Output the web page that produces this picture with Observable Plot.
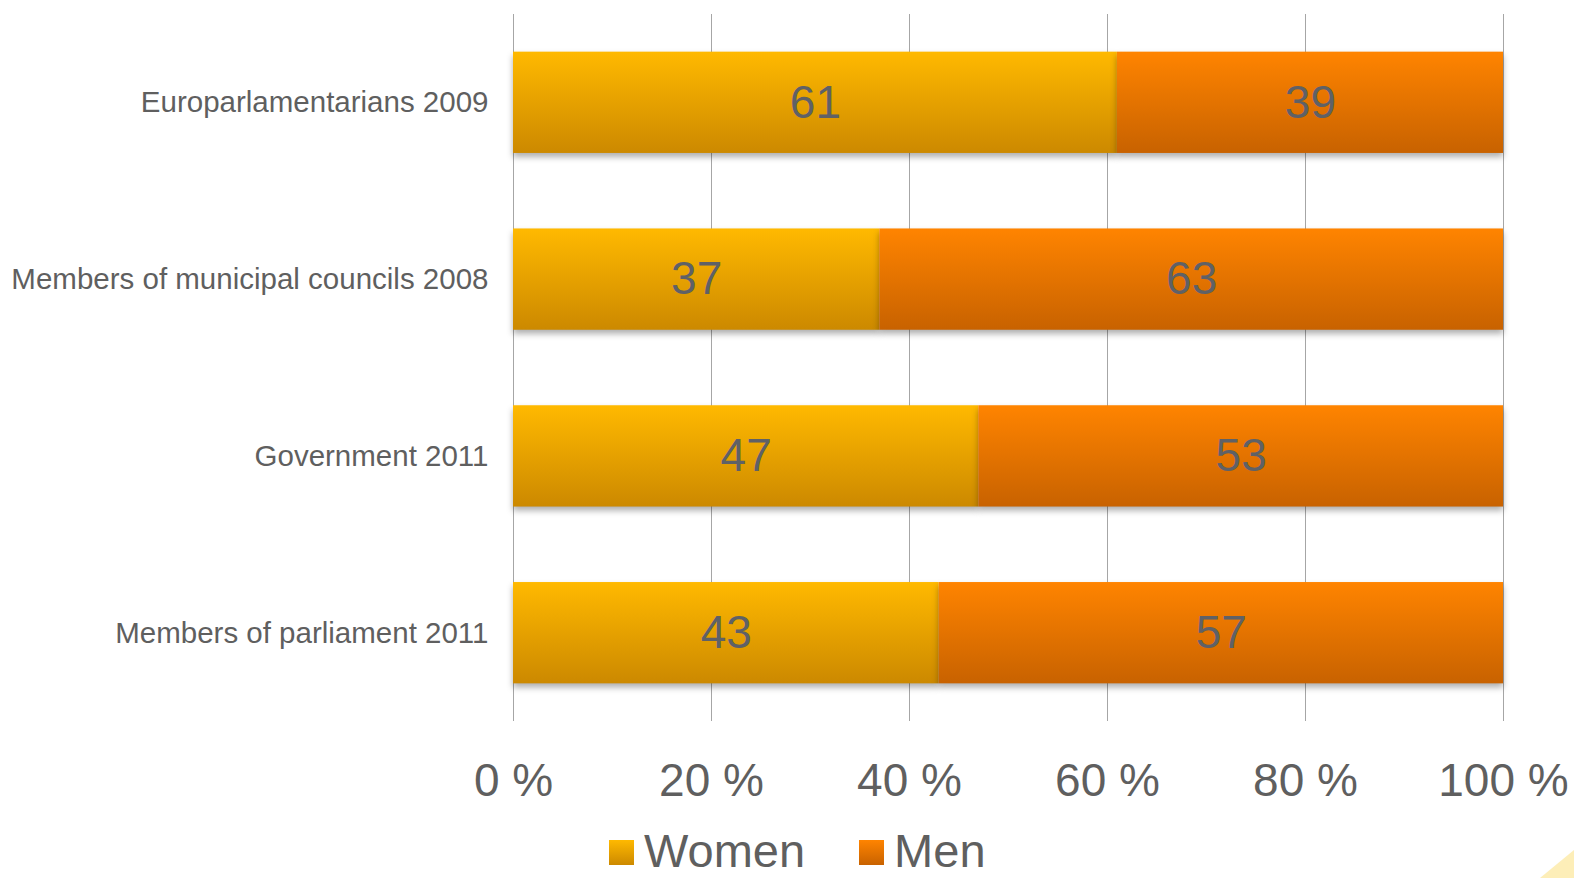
<!DOCTYPE html>
<html>
<head>
<meta charset="utf-8">
<script src="https://cdn.jsdelivr.net/npm/d3@7"></script>
<script src="https://cdn.jsdelivr.net/npm/@observablehq/plot@0.6"></script>
<style>
  html, body { margin: 0; padding: 0; background: #fff; }
  body { width: 1574px; height: 878px; position: relative; overflow: hidden; font-family: "Liberation Sans", Arial, sans-serif; }
  #chart { position: absolute; left: 0; top: 0; }
  .bars rect { filter: drop-shadow(0px 4px 3px rgba(0,0,0,0.32)); }
  #legend { position: absolute; left: 609px; bottom: 0px; display: flex; align-items: center; font-size: 47px; line-height: normal; color: #5f5f5f; }
  #legend .item { display: flex; align-items: center; margin-right: 54px; }
  #legend .sw { width: 25px; height: 25px; margin-right: 10px; margin-top: 4px; }
  #corner { position: absolute; right: 0; bottom: 0; width: 0; height: 0; border-left: 34px solid transparent; border-bottom: 28px solid #fdeeb8; }
</style>
</head>
<body>
<div id="chart"></div>
<div id="legend"></div>
<div id="corner"></div>
<script>
const categories = ["Europarlamentarians 2009", "Members of municipal councils 2008", "Government 2011", "Members of parliament 2011"];
const series = ["Women", "Men"];
const women = [61, 37, 47, 43];
const men = [39, 63, 53, 57];
const xTicks = [0, 20, 40, 60, 80, 100];
const tickLabels = ["0 %", "20 %", "40 %", "60 %", "80 %", "100 %"];

const rows = [];
categories.forEach((c, i) => {
  rows.push({category: c, sex: "Women", value: women[i]});
  rows.push({category: c, sex: "Men", value: men[i]});
});

const defs = () => {
  const svg = d3.create("svg:defs");
  const g1 = svg.append("linearGradient").attr("id", "gw").attr("x1", 0).attr("y1", 0).attr("x2", 0).attr("y2", 1);
  g1.append("stop").attr("offset", "0%").attr("stop-color", "#ffb900");
  g1.append("stop").attr("offset", "100%").attr("stop-color", "#cc8900");
  const g2 = svg.append("linearGradient").attr("id", "gm").attr("x1", 0).attr("y1", 0).attr("x2", 0).attr("y2", 1);
  g2.append("stop").attr("offset", "0%").attr("stop-color", "#ff8400");
  g2.append("stop").attr("offset", "100%").attr("stop-color", "#c86200");
  return svg.node();
};

const chart = Plot.plot({
  width: 1574,
  height: 810,
  marginTop: 14,
  marginBottom: 89,
  marginLeft: 513,
  marginRight: 71,
  style: {fontFamily: "'Liberation Sans', Arial, sans-serif", color: "#5f5f5f", background: "#fff"},
  x: {domain: [0, 100], ticks: xTicks, tickFormat: (d) => tickLabels[xTicks.indexOf(d)], tickSize: 0, tickPadding: 42, label: null},
  y: {domain: categories, paddingInner: 0.427, paddingOuter: 0.213, round: false, tickSize: 0, tickPadding: 25, label: null},
  color: {domain: series, range: ["url(#gw)", "url(#gm)"]},
  marks: [
    defs,
    Plot.gridX(xTicks, {stroke: "#a6a6a6", strokeOpacity: 1, strokeWidth: 1}),
    Plot.barX(rows, Plot.stackX({x: "value", y: "category", fill: "sex", order: series, className: "bars"})),
    Plot.text(rows, Plot.stackX({x: "value", y: "category", z: "sex", order: series, text: (d) => String(d.value), fill: "#5f6166", fontSize: 46})),
    Plot.axisY({tickSize: 0, tickPadding: 25, fontSize: 29.5, fill: "#5f5f5f"}),
    Plot.axisX({tickSize: 0, tickPadding: 42, fontSize: 46, fill: "#5f5f5f", ticks: xTicks, tickFormat: (d) => tickLabels[xTicks.indexOf(d)]})
  ]
});
document.getElementById("chart").appendChild(chart);

const legend = document.getElementById("legend");
const swGrad = {Women: "linear-gradient(#ffb900, #cc8900)", Men: "linear-gradient(#ff8400, #c86200)"};
series.forEach((s) => {
  const item = document.createElement("div");
  item.className = "item";
  const sw = document.createElement("div");
  sw.className = "sw";
  sw.style.background = swGrad[s];
  const label = document.createElement("span");
  label.textContent = s;
  item.appendChild(sw);
  item.appendChild(label);
  legend.appendChild(item);
});
</script>
</body>
</html>
